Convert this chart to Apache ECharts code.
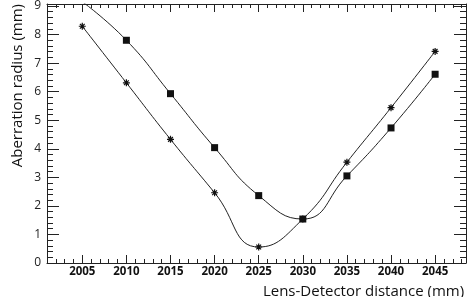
<!DOCTYPE html>
<html>
<head>
<meta charset="utf-8">
<script src="https://cdn.jsdelivr.net/npm/echarts@6/dist/echarts.min.js"></script>
<style>
  html, body { margin: 0; padding: 0; background: #fff; }
  #chart { width: 469px; height: 297px; }
</style>
</head>
<body>
<div id="chart"></div>
<script>
// lens-detector distances (mm)
var distances = [2005, 2010, 2015, 2020, 2025, 2030, 2035, 2040, 2045]
// square markers
var squareRadius = [9.15, 7.80, 5.93, 4.04, 2.36, 1.54, 3.05, 4.73, 6.61]
// star markers
var starRadius = [8.29, 6.31, 4.33, 2.46, 0.56, 1.54, 3.53, 5.44, 7.41]

var xTitle = 'Lens-Detector distance (mm)'
var yTitle = 'Aberration radius (mm)'

var FONT = '"Open Sans", "DejaVu Sans", sans-serif'
var starPath = 'path://M0,5L10,5M5,0L5,10M1.6,1.6L8.4,8.4M8.4,1.6L1.6,8.4'

function pairs(xs, ys) {
  return xs.map(function(x, i) { return [x, ys[i]] })
}

var chart = echarts.init(document.getElementById('chart'))

// common axis pieces
function xAxisCfg(pos, withLabels) {
  return {
    type: 'value',
    position: pos,
    min: 2001,
    max: 2048.5,
    splitNumber: 10,
    axisLine: { show: true, onZero: false, lineStyle: { color: '#222', width: 1 } },
    axisTick: { show: true, inside: true, length: 8, lineStyle: { color: '#222' } },
    minorTick: { show: true, splitNumber: 5, length: 4, lineStyle: { color: '#222' } },
    splitLine: { show: false },
    minorSplitLine: { show: false },
    axisLabel: {
      show: withLabels,
      margin: 3,
      fontFamily: FONT,
      fontSize: 11.5,
      fontWeight: 'bold',
      color: '#111',
      formatter: function(v) { return v % 5 === 0 ? String(v) : '' }
    }
  }
}
function yAxisCfg(pos, withLabels) {
  return {
    type: 'value',
    position: pos,
    min: 0,
    max: 9.07,
    splitNumber: 9,
    axisLine: { show: true, onZero: false, lineStyle: { color: '#222', width: 1 } },
    axisTick: { show: true, inside: true, length: 12, lineStyle: { color: '#222' } },
    minorTick: { show: true, splitNumber: 5, length: 6, lineStyle: { color: '#222' } },
    splitLine: { show: false },
    minorSplitLine: { show: false },
    axisLabel: {
      show: withLabels,
      margin: 6,
      fontFamily: FONT,
      fontSize: 12,
      color: '#222',
      formatter: function(v) { return Math.abs(v - Math.round(v)) < 1e-6 ? String(Math.round(v)) : '' }
    }
  }
}

var xBottom = xAxisCfg('bottom', true)
xBottom.name = xTitle
xBottom.nameLocation = 'middle'
xBottom.nameGap = 21
xBottom.nameTextStyle = {
  fontFamily: FONT, fontSize: 15, color: '#111',
  padding: [0, 0, 0, 214]
}

var yLeft = yAxisCfg('left', true)
yLeft.name = yTitle
yLeft.nameLocation = 'end'
yLeft.nameGap = 0
yLeft.nameRotate = 90
yLeft.nameTextStyle = {
  fontFamily: FONT, fontSize: 15, color: '#111',
  align: 'right', verticalAlign: 'bottom', padding: [0, 0, 22, 0]
}

chart.setOption({
  animation: false,
  backgroundColor: '#fff',
  grid: { left: 47, right: 3, top: 4, bottom: 34, containLabel: false, outerBoundsMode: 'none' },
  xAxis: [xBottom, xAxisCfg('top', false)],
  yAxis: [yLeft, yAxisCfg('right', false)],
  series: [
    {
      type: 'line',
      data: pairs(distances, squareRadius),
      smooth: 0.5,
      symbol: 'rect',
      symbolSize: 7,
      lineStyle: { color: '#222', width: 1 },
      itemStyle: { color: '#111' }
    },
    {
      type: 'line',
      data: pairs(distances, starRadius),
      smooth: 0.5,
      symbol: starPath,
      symbolSize: 7,
      lineStyle: { color: '#222', width: 1 },
      itemStyle: { color: 'transparent', borderColor: '#111', borderWidth: 1.2 }
    }
  ]
})
</script>
</body>
</html>
